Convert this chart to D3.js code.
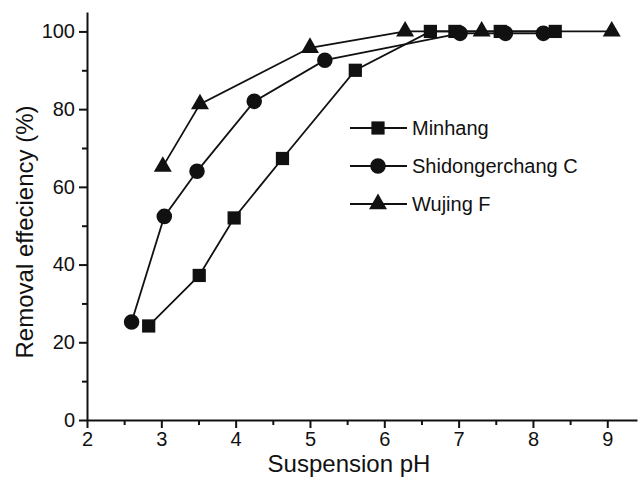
<!DOCTYPE html>
<html>
<head>
<meta charset="utf-8">
<script src="https://cdn.jsdelivr.net/npm/d3@7"></script>
<style>
  body { margin: 0; background: #fff; }
  svg { display: block; font-family: "Liberation Sans", Arial, sans-serif; }
</style>
</head>
<body>
<svg id="chart" width="638" height="479"></svg>
<script>
// values
var seriesNames = ['Minhang', 'Shidongerchang C', 'Wujing F'];
var seriesShapes = [d3.symbolSquare, d3.symbolCircle, d3.symbolTriangle];

var minhangPH = [2.83, 3.51, 3.98, 4.63, 5.61, 6.62, 6.95, 7.56, 8.30];
var minhangEff = [24.2, 37.2, 52.0, 67.3, 90.0, 100, 100, 100, 100];

var shidongPH = [2.60, 3.04, 3.48, 4.25, 5.20, 7.02, 7.63, 8.14];
var shidongEff = [25.2, 52.4, 64.0, 82.0, 92.6, 99.5, 99.5, 99.5];

var wujingPH = [3.02, 3.52, 5.00, 6.28, 7.31, 9.06];
var wujingEff = [65.2, 81.3, 95.8, 100, 100, 100];

var xTicks = [2, 3, 4, 5, 6, 7, 8, 9];
var yTicks = [0, 20, 40, 60, 80, 100];

var series = [
  { name: seriesNames[0], shape: seriesShapes[0], size: 175, ph: minhangPH, eff: minhangEff },
  { name: seriesNames[1], shape: seriesShapes[1], size: 190, ph: shidongPH, eff: shidongEff },
  { name: seriesNames[2], shape: seriesShapes[2], size: 140, ph: wujingPH, eff: wujingEff }
];

var svg = d3.select('#chart');

var x = d3.scaleLinear().domain([2, 9.4]).range([87, 637]);
var y = d3.scaleLinear().domain([0, 105]).range([420, 12]);

// minor ticks first, then major on top
svg.append('g')
  .attr('transform', 'translate(0,420)')
  .call(d3.axisBottom(x).tickValues(d3.range(2.5, 9.4, 1)).tickSize(5).tickFormat(''))
  .call(g => g.select('.domain').remove())
  .selectAll('line').attr('stroke', '#111').attr('stroke-width', 2);

svg.append('g')
  .attr('transform', 'translate(87,0)')
  .call(d3.axisLeft(y).tickValues(d3.range(10, 100, 20)).tickSize(5).tickFormat(''))
  .call(g => g.select('.domain').remove())
  .selectAll('line').attr('stroke', '#111').attr('stroke-width', 2);

var xAxis = svg.append('g')
  .attr('transform', 'translate(0,420)')
  .call(d3.axisBottom(x).tickValues(xTicks).tickSize(8).tickSizeOuter(0).tickPadding(4));

var yAxis = svg.append('g')
  .attr('transform', 'translate(87,0)')
  .call(d3.axisLeft(y).tickValues(yTicks).tickSize(8).tickSizeOuter(0).tickPadding(4));

[xAxis, yAxis].forEach(function(ax) {
  ax.select('.domain').attr('stroke', '#111').attr('stroke-width', 2);
  ax.selectAll('line').attr('stroke', '#111').attr('stroke-width', 2);
  ax.selectAll('text')
    .attr('fill', '#111')
    .style('font-size', '20px')
    .style('font-family', '"Liberation Sans", Arial, sans-serif');
});

// axis titles
svg.append('text')
  .attr('x', 349)
  .attr('y', 472)
  .attr('text-anchor', 'middle')
  .attr('fill', '#111')
  .style('font-size', '24px')
  .text('Suspension pH');

svg.append('text')
  .attr('transform', 'translate(33,232) rotate(-90)')
  .attr('text-anchor', 'middle')
  .attr('fill', '#111')
  .style('font-size', '24px')
  .text('Removal effeciency (%)');

var line = d3.line()
  .x(function(d) { return x(d[0]); })
  .y(function(d) { return y(d[1]); });

series.forEach(function(s) {
  var pts = s.ph.map(function(p, i) { return [p, s.eff[i]]; });

  svg.append('path')
    .datum(pts)
    .attr('fill', 'none')
    .attr('stroke', '#111')
    .attr('stroke-width', 1.8)
    .attr('d', line);

  svg.append('g').selectAll('path')
    .data(pts)
    .join('path')
    .attr('transform', function(d) { return 'translate(' + x(d[0]) + ',' + y(d[1]) + ')'; })
    .attr('d', d3.symbol().type(s.shape).size(s.size))
    .attr('fill', '#111');
});

// legend
var legend = svg.append('g');
series.forEach(function(s, i) {
  var ly = 128 + i * 38;
  legend.append('line')
    .attr('x1', 350).attr('x2', 407)
    .attr('y1', ly).attr('y2', ly)
    .attr('stroke', '#111')
    .attr('stroke-width', 1.8);
  legend.append('path')
    .attr('transform', 'translate(378,' + ly + ')')
    .attr('d', d3.symbol().type(s.shape).size(s.size))
    .attr('fill', '#111');
  legend.append('text')
    .attr('x', 412)
    .attr('y', ly)
    .attr('dy', '0.35em')
    .attr('fill', '#111')
    .style('font-size', '20px')
    .text(s.name);
});
</script>
</body>
</html>
